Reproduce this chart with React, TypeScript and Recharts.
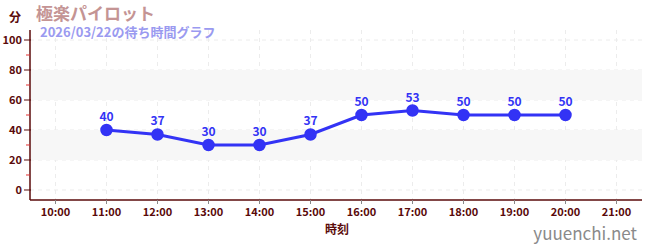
import React from "react";
import {
  LineChart, Line, XAxis, YAxis, CartesianGrid, ReferenceArea, LabelList,
} from "recharts";

const hours = ["10:00", "11:00", "12:00", "13:00", "14:00", "15:00", "16:00", "17:00", "18:00", "19:00", "20:00", "21:00"];
const waits: (number | null)[] = [null, 40, 37, 30, 30, 37, 50, 53, 50, 50, 50, null];
const yTicks = [0, 10, 20, 30, 40, 50, 60, 70, 80, 90, 100];
const yMajor = [0, 20, 40, 60, 80, 100];
const bands = [[20, 40], [60, 80]];

const title = "極楽パイロット";
const subtitle = "2026/03/22の待ち時間グラフ";
const yUnit = "分";
const xLabel = "時刻";
const watermark = "yuuenchi.net";

const data = hours.map((h, i) => ({ x: parseInt(h, 10), wait: waits[i] }));
const hourNums = hours.map((h) => parseInt(h, 10));

const FONT = "'Noto Sans CJK JP', 'Noto Sans', sans-serif";
const AXIS = "#5a0a0a";

const YTick = (props: any) => {
  const { x, y, payload } = props;
  const v = payload.value;
  const major = v % 20 === 0;
  if (!major) {
    return <line x1={x + 4} x2={x + 8} y1={y} y2={y} stroke="#e03030" strokeWidth={1} />;
  }
  return (
    <g>
      <line x1={x + 2} x2={x + 9} y1={y} y2={y} stroke={AXIS} strokeWidth={1} />
      <text x={x} y={y} dy={4} textAnchor="end" fontSize={11} fontWeight="bold" fill={AXIS} fontFamily={FONT}>
        {v}
      </text>
    </g>
  );
};

const XTick = (props: any) => {
  const { x, y, payload } = props;
  return (
    <g>
      <line x1={x} x2={x} y1={y - 8} y2={y - 4} stroke="#888" strokeWidth={1} />
      <text x={x} y={y} dy={8} textAnchor="middle" fontSize={11} fontWeight="bold" fill={AXIS} fontFamily={FONT}>
        {`${payload.value}:00`}
      </text>
    </g>
  );
};

export default function App() {
  return (
    <div style={{ position: "fixed", left: 0, top: 0, width: 650, height: 250, background: "#fff" }}>
      <LineChart width={650} height={250} data={data} margin={{ top: 30, right: 8, left: 0, bottom: 0 }}>
        {bands.map(([a, b]) => (
          <ReferenceArea key={a} y1={a} y2={b} fill="#f7f7f7" fillOpacity={1} stroke="none" ifOverflow="hidden" />
        ))}
        <CartesianGrid
          stroke="#ececec"
          strokeDasharray="4 4"
          horizontalValues={yMajor}
          verticalValues={hourNums}
        />
        <XAxis
          dataKey="x"
          type="number"
          domain={[9.5, 21.5]}
          ticks={hourNums}
          tick={<XTick />}
          tickLine={false}
          axisLine={{ stroke: AXIS, strokeWidth: 1.5 }}
          height={50}
          interval={0}
        />
        <YAxis
          type="number"
          domain={[-6.67, 106.67]}
          ticks={yTicks}
          tick={<YTick />}
          tickLine={false}
          axisLine={{ stroke: AXIS, strokeWidth: 1.5 }}
          width={30}
          interval={0}
          allowDataOverflow
        />
        <Line
          dataKey="wait"
          stroke="#3333f5"
          strokeWidth={3}
          dot={{ r: 5.5, fill: "#3333f5", stroke: "#3333f5", strokeWidth: 1.5 }}
          isAnimationActive={false}
          connectNulls={false}
        >
          <LabelList dataKey="wait" position="top" offset={9} fill="#3333f5" fontSize={12} fontWeight="bold" fontFamily={FONT} />
        </Line>
        <text x={15} y={22} textAnchor="middle" fontSize={12} fontWeight="bold" fill={AXIS} fontFamily={FONT}>{yUnit}</text>
        <text x={36} y={20} fontSize={17} fontWeight="bold" fill="#c49494" fontFamily={FONT}>{title}</text>
        <text x={40} y={37} fontSize={13} fontWeight="bold" fill="#9a9af0" fontFamily={FONT}>{subtitle}</text>
        <text x={337} y={234} textAnchor="middle" fontSize={12} fontWeight="bold" fill={AXIS} fontFamily={FONT}>{xLabel}</text>
        <text x={637} y={240} textAnchor="end" fontSize={17} fill="#8a8a8a" fontFamily={FONT}>{watermark}</text>
      </LineChart>
    </div>
  );
}
